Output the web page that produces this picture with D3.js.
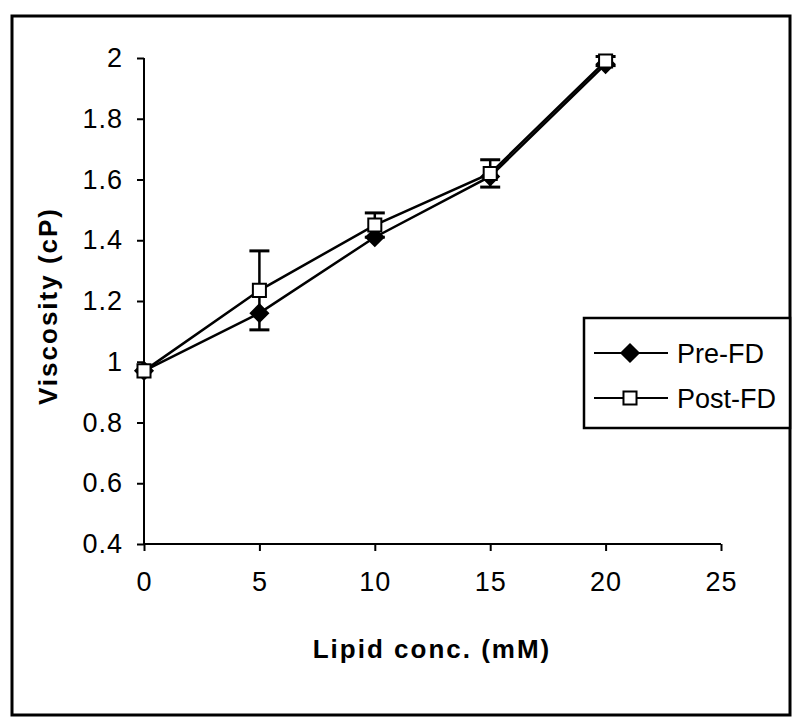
<!DOCTYPE html>
<html>
<head>
<meta charset="utf-8">
<script src="https://cdn.jsdelivr.net/npm/d3@7"></script>
<style>
  body { margin: 0; background: #fff; }
  text { font-family: "Liberation Sans", Arial, sans-serif; fill: #000; }
</style>
</head>
<body>
<div class="canvas"></div>
<script>
// data
const lipid = [0, 5, 10, 15, 20];
const preFD = [0.97, 1.16, 1.41, 1.61, 1.98];
const postFD = [0.97, 1.235, 1.45, 1.62, 1.99];
const postErr = [0, 0.13, 0.04, 0.045, 0.015];
const xTicks = [0, 5, 10, 15, 20, 25];
const yTicks = [0.4, 0.6, 0.8, 1, 1.2, 1.4, 1.6, 1.8, 2];

// graph dimensions
const width = 800, height = 726;
const margin = { top: 58, right: 79, bottom: 182, left: 144 };
const graphWidth = width - margin.left - margin.right;
const graphHeight = height - margin.top - margin.bottom;

const svg = d3.select('.canvas')
  .append('svg')
  .attr('width', width)
  .attr('height', height);

// outer frame
svg.append('rect')
  .attr('x', 12).attr('y', 16)
  .attr('width', 778).attr('height', 699)
  .attr('fill', 'none')
  .attr('stroke', '#000')
  .attr('stroke-width', 3);

const graph = svg.append('g')
  .attr('transform', `translate(${margin.left}, ${margin.top})`);

// scales
const x = d3.scaleLinear().domain([0, 25]).range([0, graphWidth]);
const y = d3.scaleLinear().domain([0.4, 2]).range([graphHeight, 0]);

// axes
const xAxis = d3.axisBottom(x).tickValues(xTicks).tickSize(7).tickPadding(21).tickFormat(d3.format('d'));
const yAxis = d3.axisLeft(y).tickValues(yTicks).tickSize(7).tickPadding(14).tickFormat(d => String(d));

const xAxisGroup = graph.append('g')
  .attr('transform', `translate(0, ${graphHeight})`)
  .call(xAxis);
const yAxisGroup = graph.append('g').call(yAxis);

[xAxisGroup, yAxisGroup].forEach(g => {
  g.select('.domain').attr('stroke', '#000').attr('stroke-width', 2);
  g.selectAll('.tick line').attr('stroke', '#000').attr('stroke-width', 2);
  g.selectAll('.tick text')
    .style('font-family', '"Liberation Sans", Arial, sans-serif')
    .style('font-size', '27px')
    .style('letter-spacing', '1px')
    .attr('fill', '#000');
});
xAxisGroup.selectAll('.domain').attr('d', `M0,0H${graphWidth}`);
yAxisGroup.selectAll('.domain').attr('d', `M0,${graphHeight}V0`);

// axis titles
svg.append('text')
  .attr('x', 432)
  .attr('y', 658)
  .attr('text-anchor', 'middle')
  .style('font-size', '26px')
  .style('font-weight', 'bold')
  .style('letter-spacing', '2px')
  .text('Lipid conc. (mM)');

svg.append('text')
  .attr('transform', 'translate(57, 306) rotate(-90)')
  .attr('text-anchor', 'middle')
  .style('font-size', '26px')
  .style('font-weight', 'bold')
  .style('letter-spacing', '2px')
  .text('Viscosity (cP)');

// line generator
const line = d3.line()
  .x((d, i) => x(lipid[i]))
  .y(d => y(d));

const series = [
  { name: 'Pre-FD', values: preFD, symbol: d3.symbolSquare, rotate: 45, fill: '#000', size: 150 },
  { name: 'Post-FD', values: postFD, symbol: d3.symbolSquare, rotate: 0, fill: '#fff', size: 170 }
];

// error bars (Post-FD)
const eb = graph.append('g');
postFD.forEach((v, i) => {
  if (!postErr[i]) return;
  const cx = x(lipid[i]);
  eb.append('line')
    .attr('x1', cx).attr('x2', cx)
    .attr('y1', y(v - postErr[i])).attr('y2', y(v + postErr[i]))
    .attr('stroke', '#000').attr('stroke-width', 2.5);
  [v - postErr[i], v + postErr[i]].forEach(e => {
    eb.append('line')
      .attr('x1', cx - 10).attr('x2', cx + 10)
      .attr('y1', y(e)).attr('y2', y(e))
      .attr('stroke', '#000').attr('stroke-width', 3);
  });
});

// lines and markers
series.forEach(s => {
  graph.append('path')
    .datum(s.values)
    .attr('fill', 'none')
    .attr('stroke', '#000')
    .attr('stroke-width', 2.5)
    .attr('d', line);
});
series.forEach(s => {
  graph.selectAll(null)
    .data(s.values)
    .enter()
    .append('path')
    .attr('transform', (d, i) => `translate(${x(lipid[i])}, ${y(d)}) rotate(${s.rotate})`)
    .attr('d', d3.symbol().type(s.symbol).size(s.size))
    .attr('fill', s.fill)
    .attr('stroke', '#000')
    .attr('stroke-width', 2);
});

// legend
const legend = svg.append('g');
legend.append('rect')
  .attr('x', 584).attr('y', 318)
  .attr('width', 206).attr('height', 110)
  .attr('fill', '#fff')
  .attr('stroke', '#000')
  .attr('stroke-width', 2.5);

series.forEach((s, i) => {
  const ly = 353 + i * 45;
  legend.append('line')
    .attr('x1', 594).attr('x2', 668)
    .attr('y1', ly).attr('y2', ly)
    .attr('stroke', '#000').attr('stroke-width', 2);
  legend.append('path')
    .attr('transform', `translate(630, ${ly}) rotate(${s.rotate})`)
    .attr('d', d3.symbol().type(s.symbol).size(s.size))
    .attr('fill', s.fill)
    .attr('stroke', '#000')
    .attr('stroke-width', 2);
  legend.append('text')
    .attr('x', 677).attr('y', ly + 10)
    .style('font-size', '27px')
    .text(s.name);
});
</script>
</body>
</html>
